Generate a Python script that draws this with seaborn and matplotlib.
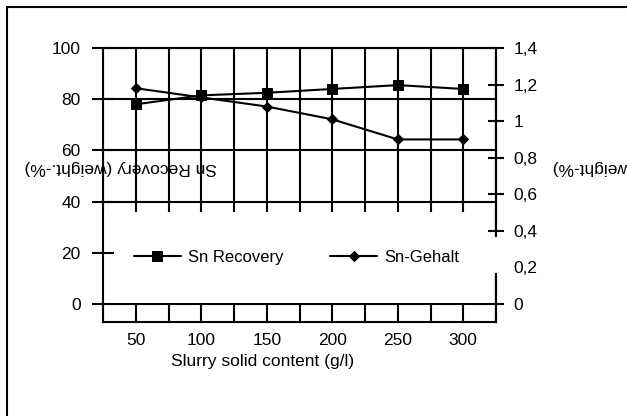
import matplotlib
matplotlib.use("Agg")
import matplotlib.pyplot as plt
import seaborn as sns
import pandas as pd
from matplotlib.patches import Rectangle
from matplotlib.lines import Line2D
from matplotlib.ticker import FixedLocator, MultipleLocator

# ---- data ----
solid_content = [50, 100, 150, 200, 250, 300]
sn_recovery = [78, 81.5, 82.5, 84, 85.5, 84]
sn_gehalt = [1.18, 1.13, 1.08, 1.01, 0.90, 0.90]
x_ticks = [50, 100, 150, 200, 250, 300]
left_ticks = [0, 20, 40, 60, 80, 100]
right_ticks = [0, 0.2, 0.4, 0.6, 0.8, 1.0, 1.2, 1.4]
right_tick_labels = ["0", "0,2", "0,4", "0,6", "0,8", "1", "1,2", "1,4"]
series_labels = ["Sn Recovery", "Sn-Gehalt"]

sns.set_theme(style="white")
plt.rcParams["font.family"] = ["Liberation Sans", "DejaVu Sans"]
plt.rcParams["text.color"] = "black"
plt.rcParams["axes.labelcolor"] = "black"
plt.rcParams["xtick.color"] = "black"
plt.rcParams["ytick.color"] = "black"

FS = 12.5
LW = 1.5

df = pd.DataFrame({"solid": solid_content, "recovery": sn_recovery, "gehalt": sn_gehalt})

fig = plt.figure(figsize=(6.27, 4.16), dpi=100)
W, H = 627, 416
ax = fig.add_axes([103 / W, 94 / H, 393 / W, 274 / H])

sns.lineplot(data=df, x="solid", y="recovery", ax=ax, color="black", marker="s",
             markersize=7, markeredgecolor="black", linewidth=LW, label=series_labels[0])
ax.set_xlim(25, 325)
ax.set_ylim(-7.03, 100)
ax.xaxis.set_major_locator(FixedLocator(x_ticks))
ax.xaxis.set_minor_locator(MultipleLocator(25))
ax.set_yticks(left_ticks)
ax.grid(True, which="both", axis="x", color="black", linewidth=LW)
ax.grid(True, which="major", axis="y", color="black", linewidth=LW)
ax.tick_params(axis="y", left=False, right=False, labelleft=False)
ax.tick_params(axis="x", which="both", length=0, pad=8, labelsize=FS)
ax.set_xlabel("Slurry solid content (g/l)", fontsize=FS)
ax.xaxis.set_label_coords(0.407, -0.118)
ax.set_ylabel("")
for s in ax.spines.values():
    s.set_color("black")
    s.set_linewidth(LW)

# white legend background covering the grid
ax.add_patch(Rectangle((0.003, 0.069), 0.99, 0.332, transform=ax.transAxes,
                       facecolor="white", edgecolor="none", zorder=2.2))

# left axis ticks (drawn above legend background)
axL = ax.twinx()
axL.set_ylim(ax.get_ylim())
axL.yaxis.tick_left()
axL.set_yticks(left_ticks)
axL.tick_params(axis="y", direction="inout", length=16, width=LW, pad=8, labelsize=FS)
for s in axL.spines.values():
    s.set_visible(False)
axL.set_ylabel("Sn Recovery (weight.-%)", fontsize=FS, rotation=180, ha="center", va="center")
axL.yaxis.set_label_position("left")
axL.yaxis.label.set_rotation(180)
axL.yaxis.label.set_va("center")
axL.yaxis.set_label_coords(0.046, 0.565)

# right axis
axR = ax.twinx()
sns.lineplot(data=df, x="solid", y="gehalt", ax=axR, color="black", marker="D",
             markersize=5, markeredgecolor="black", linewidth=LW, label=series_labels[1])
axR.set_ylim(-0.0984, 1.4)
axR.set_yticks(right_ticks)
axR.set_yticklabels(right_tick_labels)
axR.tick_params(axis="y", direction="inout", length=11, width=LW, pad=7, labelsize=FS)
for k, s in axR.spines.items():
    s.set_visible(k == "right")
    s.set_linewidth(LW)
    s.set_color("black")
axR.set_ylabel("Sn-Gehalt (weight-%)", fontsize=FS, rotation=180, ha="right", va="center")
axR.yaxis.label.set_rotation(180)
axR.yaxis.label.set_ha("right")
axR.yaxis.label.set_va("center")
axR.yaxis.set_label_coords(1.145, 0.565)

# gap in right spine (legend area)
axR.add_patch(Rectangle((0.965, 0.179), 0.07, 0.131, transform=axR.transAxes,
                        facecolor="white", edgecolor="none", zorder=10, clip_on=False))

# legend
h1, l1 = ax.get_legend_handles_labels()
h2, l2 = axR.get_legend_handles_labels()
for a in (ax, axR):
    if a.get_legend() is not None:
        a.get_legend().remove()
leg = ax.legend(h1 + h2, l1 + l2, ncol=2, loc="center left", bbox_to_anchor=(0.079, 0.235),
                frameon=False, fontsize=12, borderpad=0, borderaxespad=0,
                handlelength=2.8, handletextpad=0.45, columnspacing=2.8)
leg.set_zorder(6)

# outer frame
fig.add_artist(Line2D([7 / W, 7 / W], [0, 409 / H], transform=fig.transFigure, color="black", lw=LW))
fig.add_artist(Line2D([7 / W, 1], [409 / H, 409 / H], transform=fig.transFigure, color="black", lw=LW))

fig.savefig("out.png", dpi=100)
